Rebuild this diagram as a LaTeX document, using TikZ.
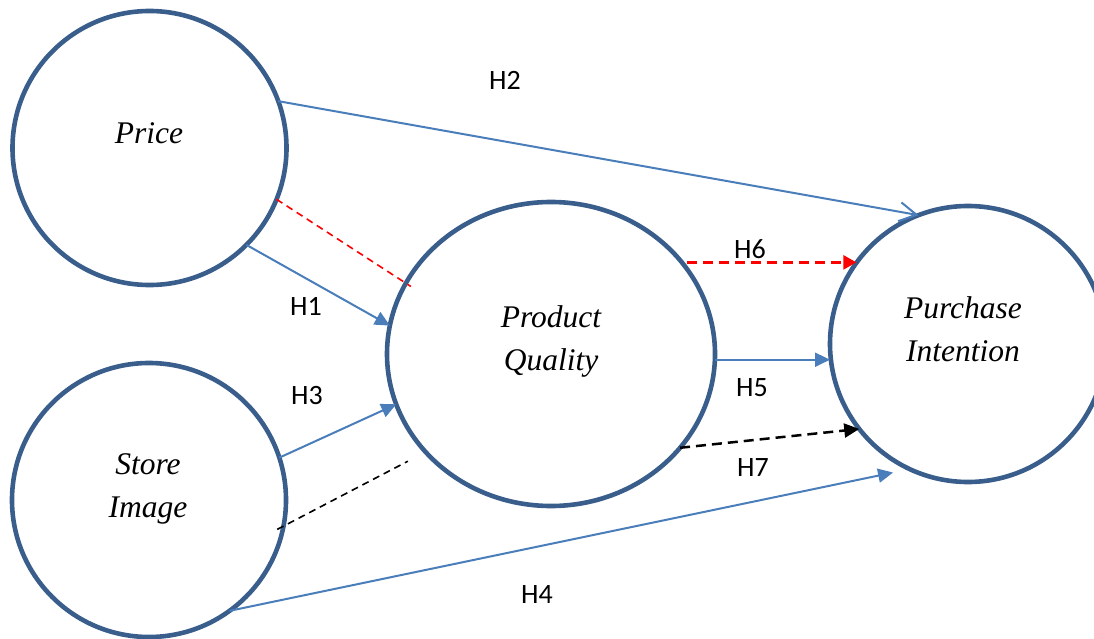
\documentclass[tikz,border=0pt]{standalone}
\usepackage{fontspec}
\setmainfont{Liberation Serif}
\newfontfamily\labfont{Carlito}
\usetikzlibrary{arrows.meta,shapes.geometric}
\definecolor{ring}{HTML}{3A5E8C}
\definecolor{linkblue}{HTML}{4A7EBB}
\begin{document}
\begin{tikzpicture}[x=1pt,y=-1pt,
  construct/.style={draw=ring,line width=4.6pt,inner sep=0pt,outer sep=0pt},
  ctext/.style={font=\fontsize{31.5}{43}\selectfont\itshape,align=center,inner sep=0pt},
  hlab/.style={font=\labfont\fontsize{28}{30}\selectfont,inner sep=0pt},
  solidlink/.style={draw=linkblue,line width=2pt,-{Triangle[length=15pt,width=14pt]}},
  openlink/.style={draw=linkblue,line width=2pt,-{Straight Barb[length=17pt,width=19pt]}},
  redlink/.style={draw=red,line width=1.6pt,dash pattern=on 7pt off 5pt},
  blacklink/.style={draw=black,line width=1.6pt,dash pattern=on 7pt off 5pt},
  redarrowlink/.style={draw=red,line width=2.5pt,dash pattern=on 10pt off 6pt,-{Triangle[length=13pt,width=14pt]}},
  blackarrowlink/.style={draw=black,line width=2.5pt,dash pattern=on 10pt off 6pt,-{Triangle[length=15pt,width=14pt]}}
]
\useasboundingbox (0,0) rectangle (1094,639);
\clip (0,0) rectangle (1094,639);

\node[construct,circle,minimum size=274pt] (price) at (149.5,148) {};
\node[construct,circle,minimum size=274pt] (store) at (149,500) {};
\node[construct,ellipse,minimum width=328pt,minimum height=304pt] (pq) at (551,354) {};
\node[construct,circle,minimum size=276pt] (pi) at (968,344) {};

\node[ctext,anchor=base] (pricetext) at (149,144) {Price};
\node[ctext] (pqtext) at (551,341) {Product\\Quality};
\node[ctext] (pitext) at (963,329) {Purchase\\Intention};
\node[ctext] (storetext) at (148,489) {Store\\Image};

\draw[solidlink] (price.-45) -- (pq.170);
\draw[redlink,shorten >=-6pt] (price.-22) -- (pq.154);
\draw[openlink] (price.20) -- (pi.111);
\draw[solidlink] (store.18) -- (pq.198);
\draw[blacklink,shorten <=-7pt,shorten >=20pt] (store.-11) -- (pq.218);
\draw[solidlink,shorten >=17pt] (store.-54) -- (pi.245);
\draw[solidlink] (pq.-2) -- (pq.-2 -| pi.west);
\draw[redarrowlink,shorten <=5pt] (pq.35) -- (pi.144.5 |- pq.35);
\draw[blackarrowlink] (pq.-36) -- (pi.218.4);

\node[hlab] (h1) at (306,306) {H1};
\node[hlab] (h2) at (505,80) {H2};
\node[hlab] (h3) at (307,396) {H3};
\node[hlab] (h4) at (537,595) {H4};
\node[hlab] (h5) at (752,388) {H5};
\node[hlab] (h6) at (750,249) {H6};
\node[hlab] (h7) at (753,468) {H7};
\end{tikzpicture}
\end{document}
